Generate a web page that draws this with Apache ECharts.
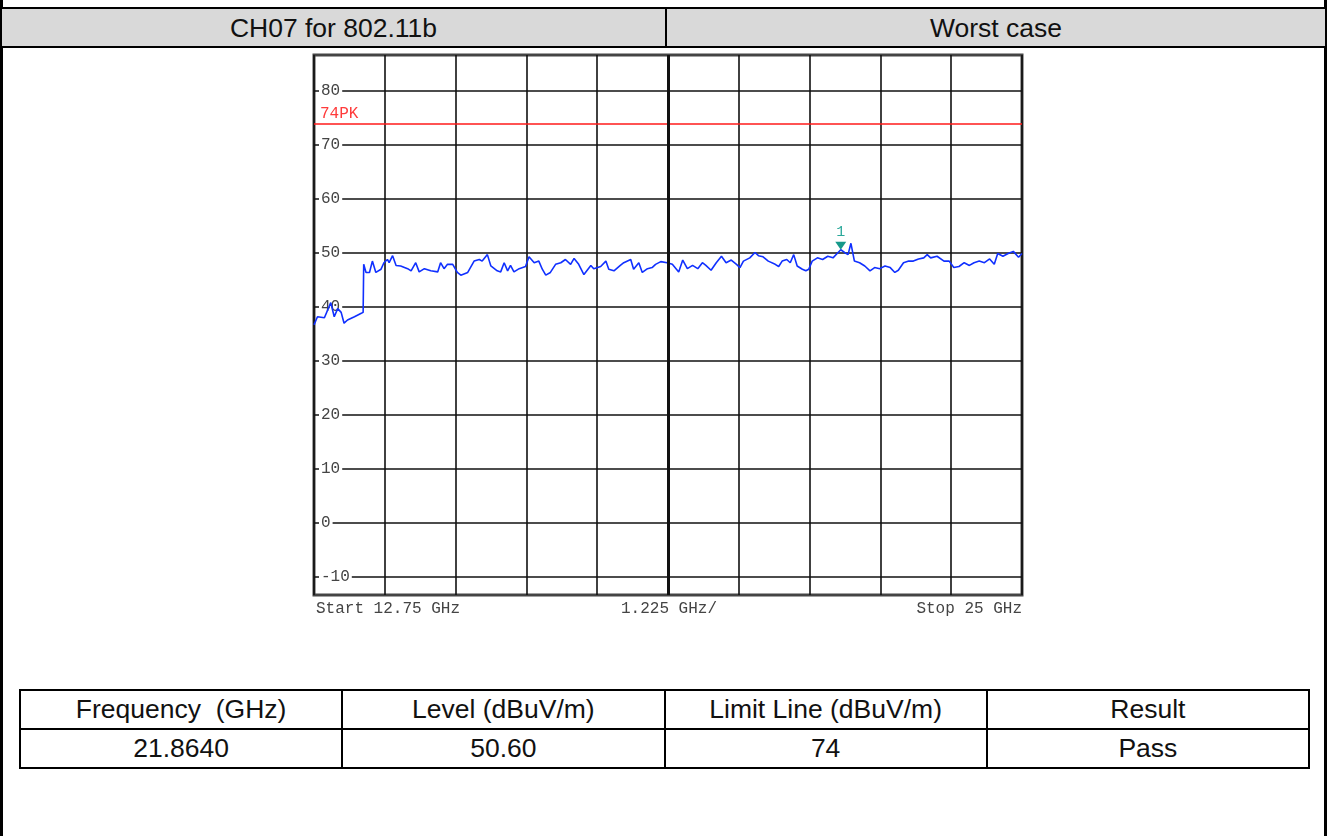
<!DOCTYPE html>
<html>
<head>
<meta charset="utf-8">
<script src="https://cdn.jsdelivr.net/npm/echarts@6/dist/echarts.min.js"></script>
<style>
    body {
        margin: 0;
        width: 1330px;
        height: 836px;
        background: #fff;
        overflow: hidden;
        position: relative;
        font-family: "Liberation Sans", Arial, sans-serif;
    }
    .vline {
        position: absolute;
        top: 0;
        width: 3px;
        height: 836px;
        background: #000;
    }
    .head {
        position: absolute;
        left: 2px;
        top: 7px;
        width: 1323px;
        height: 37px;
        background: #d9d9d9;
        border-top: 2px solid #000;
        border-bottom: 2px solid #000;
    }
    .head div {
        position: absolute;
        top: 1px;
        height: 37px;
        line-height: 37px;
        text-align: center;
        font-size: 26.5px;
        color: #111;
    }
    .head .sep {
        top: 0;
        left: 663px;
        width: 2px;
        background: #000;
    }
    #result {
        position: absolute;
        left: 19px;
        top: 689px;
        width: 1291px;
        border-collapse: collapse;
        table-layout: fixed;
    }
    #result td {
        border: 2px solid #000;
        height: 37px;
        line-height: 37px;
        padding: 0;
        text-align: center;
        font-size: 26.5px;
        color: #111;
        white-space: pre;
    }
    #chart {
        position: absolute;
        left: 0;
        top: 0;
        width: 1330px;
        height: 836px;
    }
</style>
</head>
<body>
    <div class="vline" style="left:0px"></div>
    <div class="vline" style="left:1324px"></div>
    <div class="head">
        <div style="left:0;width:663px">CH07 for 802.11b</div>
        <div class="sep"></div>
        <div style="left:665px;width:658px">Worst case</div>
    </div>
    <table id="result">
        <tr><td>Frequency  (GHz)</td><td>Level (dBuV/m)</td><td>Limit Line (dBuV/m)</td><td>Result</td></tr>
        <tr><td>21.8640</td><td>50.60</td><td>74</td><td>Pass</td></tr>
    </table>
    <div id="chart"></div>
<script type="text/javascript">
    // trace (GHz / dBuV/m)
    var freqGHz = [
        12.75, 12.81, 12.93, 13.04, 13.10, 13.16, 13.22, 13.27, 13.33, 13.45,
        13.56, 13.60, 13.61, 13.65, 13.71, 13.76, 13.82, 13.91, 13.96, 14.02,
        14.05, 14.11, 14.17, 14.25, 14.37, 14.43, 14.51, 14.57, 14.66, 14.77,
        14.89, 14.94, 15.00, 15.06, 15.15, 15.23, 15.29, 15.41, 15.52, 15.61,
        15.66, 15.75, 15.81, 15.92, 15.98, 16.04, 16.10, 16.15, 16.21, 16.30,
        16.41, 16.47, 16.56, 16.64, 16.70, 16.76, 16.84, 16.93, 17.02, 17.10,
        17.19, 17.25, 17.33, 17.42, 17.54, 17.59, 17.71, 17.80, 17.85, 17.94,
        18.05, 18.11, 18.23, 18.28, 18.37, 18.43, 18.52, 18.60, 18.66, 18.75,
        18.86, 18.95, 19.06, 19.13, 19.21, 19.30, 19.39, 19.47, 19.53, 19.62,
        19.71, 19.80, 19.88, 19.97, 20.06, 20.12, 20.18, 20.29, 20.38, 20.44,
        20.52, 20.61, 20.73, 20.79, 20.85, 20.93, 20.99, 21.05, 21.11, 21.20,
        21.26, 21.31, 21.37, 21.46, 21.55, 21.64, 21.73, 21.81, 21.864, 21.93,
        21.99, 22.04, 22.10, 22.19, 22.28, 22.37, 22.45, 22.54, 22.63, 22.72,
        22.80, 22.86, 22.95, 23.04, 23.12, 23.21, 23.30, 23.36, 23.42, 23.53,
        23.65, 23.74, 23.82, 23.91, 24.00, 24.09, 24.17, 24.26, 24.35, 24.44,
        24.52, 24.58, 24.67, 24.76, 24.85, 24.94, 25.00
    ];
    var levelDbuv = [
        36.7, 38.2, 38.0, 40.8, 38.2, 39.7, 39.0, 37.0, 37.6, 38.2,
        38.8, 39.0, 47.9, 46.4, 46.4, 48.5, 46.4, 47.0, 48.2, 48.8,
        48.2, 49.5, 47.7, 47.6, 47.1, 46.7, 48.2, 46.5, 47.1, 46.7,
        46.5, 48.2, 47.1, 47.9, 47.9, 46.4, 45.9, 46.4, 48.5, 48.8,
        48.5, 49.7, 47.6, 46.7, 46.5, 48.2, 46.7, 47.7, 46.5, 47.1,
        47.5, 49.3, 48.2, 48.5, 47.0, 45.9, 46.4, 47.9, 48.2, 48.8,
        47.9, 49.0, 47.9, 46.0, 47.7, 47.1, 47.5, 48.5, 47.0, 46.7,
        47.7, 48.2, 48.8, 47.0, 48.2, 46.4, 47.1, 47.3, 47.9, 48.4,
        48.2, 47.9, 46.5, 48.7, 47.1, 47.7, 47.1, 48.2, 47.7, 46.8,
        48.2, 49.4, 48.2, 48.7, 47.9, 47.3, 48.5, 49.1, 50.1, 49.5,
        49.3, 48.5, 47.9, 47.5, 48.5, 48.8, 48.2, 49.7, 47.6, 47.0,
        46.7, 47.0, 48.5, 49.1, 48.8, 49.4, 49.1, 50.0, 50.6, 50.1,
        49.7, 51.8, 48.5, 48.2, 47.6, 46.7, 47.3, 47.1, 47.6, 47.3,
        46.4, 46.8, 48.2, 48.5, 48.5, 48.9, 49.1, 49.7, 49.1, 49.4,
        48.5, 48.5, 47.3, 47.5, 48.2, 47.7, 48.2, 48.5, 48.2, 48.9,
        47.9, 49.9, 49.4, 49.9, 50.3, 49.2, 49.9
    ];
    var yTickValues = [-10, 0, 10, 20, 30, 40, 50, 60, 70, 80];
    var xGridValues = [12.75, 13.975, 15.2, 16.425, 17.65, 18.875, 20.1, 21.325, 22.55, 23.775, 25];
    var limitLevel = 74;
    var limitLabel = '74PK';
    var markerFreq = 21.864;
    var markerLevel = 50.6;
    var startLabel = 'Start 12.75 GHz';
    var spanLabel = '1.225 GHz/';
    var stopLabel = 'Stop 25 GHz';

    var mono = '"Liberation Mono", "DejaVu Sans Mono", monospace';

    var chart = echarts.init(document.getElementById('chart'));
    var trace = freqGHz.map(function (f, i) {
        return [f, levelDbuv[i]];
    });

    var option = {
        animation: false,
        grid: {
            left: 314,
            top: 55,
            width: 708,
            height: 540,
            show: true,
            borderColor: '#444',
            borderWidth: 3,
            backgroundColor: 'transparent'
        },
        xAxis: {
            type: 'value',
            min: 12.75,
            max: 25,
            axisLine: { show: false },
            axisTick: { show: false, customValues: xGridValues },
            axisLabel: { show: false },
            splitLine: { show: true, lineStyle: { color: '#111', width: 1.6 } }
        },
        yAxis: {
            type: 'value',
            min: -40 / 3,
            max: 260 / 3,
            axisLine: { show: false },
            axisTick: { show: false, customValues: yTickValues },
            axisLabel: {
                inside: true,
                customValues: yTickValues,
                margin: 5,
                color: '#444',
                fontFamily: mono,
                fontSize: 16,
                backgroundColor: '#fff',
                padding: [0, 2, 0, 2]
            },
            splitLine: { show: true, lineStyle: { color: '#111', width: 1.6 } }
        },
        graphic: [
            { type: 'text', x: 316, y: 609, style: { text: startLabel, font: '16px ' + mono, fill: '#444', align: 'left', textAlign: 'left', verticalAlign: 'middle', textVerticalAlign: 'middle' } },
            { type: 'text', x: 669, y: 609, style: { text: spanLabel, font: '16px ' + mono, fill: '#444', align: 'center', textAlign: 'center', verticalAlign: 'middle', textVerticalAlign: 'middle' } },
            { type: 'text', x: 1022, y: 609, style: { text: stopLabel, font: '16px ' + mono, fill: '#444', align: 'right', textAlign: 'right', verticalAlign: 'middle', textVerticalAlign: 'middle' } }
        ],
        series: [{
            type: 'line',
            data: trace,
            showSymbol: false,
            lineStyle: { color: '#1030ff', width: 1.6 },
            markLine: {
                silent: true,
                symbol: 'none',
                animation: false,
                data: [
                    {
                        yAxis: limitLevel,
                        lineStyle: { color: '#ff1a1a', width: 1.5, type: 'solid' },
                        label: {
                            show: true,
                            position: 'insideStartTop',
                            formatter: limitLabel,
                            color: '#ff3b3b',
                            fontFamily: mono,
                            fontSize: 16,
                            distance: [6, 2]
                        }
                    },
                    {
                        xAxis: xGridValues[5],
                        lineStyle: { color: '#111', width: 3, type: 'solid' },
                        label: { show: false }
                    }
                ]
            },
            markPoint: {
                silent: true,
                animation: false,
                data: [{ coord: [markerFreq, markerLevel] }],
                symbol: 'triangle',
                symbolRotate: 180,
                symbolSize: [11, 8],
                symbolOffset: [0, -4],
                itemStyle: { color: '#16998a' },
                label: {
                    show: true,
                    position: 'top',
                    distance: 2,
                    formatter: '1',
                    color: '#2aa89a',
                    fontFamily: mono,
                    fontSize: 15
                }
            }
        }]
    };
    chart.setOption(option);
</script>
</body>
</html>
